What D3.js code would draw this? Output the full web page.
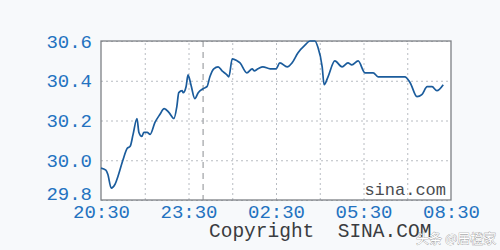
<!DOCTYPE html>
<html>
<head>
<meta charset="utf-8">
<script src="https://cdn.jsdelivr.net/npm/d3@7/dist/d3.min.js"></script>
<style>
  body { margin: 0; background: #f7f9fb; }
  svg { display: block; }
  .lbl text { font-family: "Liberation Mono", "DejaVu Sans Mono", monospace; font-size: 19px; fill: #2372c0; }
  .grid line { stroke: #b8bcc2; stroke-dasharray: 2,3; }
  .grid path { display: none; }
</style>
</head>
<body>
<svg></svg>
<script>

var width = 500;
var height = 250;

// samples (times before noon are the next day)
var times = ["20:30","20:40","20:44","20:51","20:59","21:05","21:15","21:24","21:30","21:36",
  "21:44","21:48","21:54","21:58","22:05","22:11","22:21","22:31","22:40","22:50",
  "23:00","23:06","23:10","23:17","23:19","23:25","23:29","23:35","23:43","23:50",
  "00:00","00:08","00:14","00:22","00:31","00:39","00:49","00:53","01:00","01:10",
  "01:16","01:30","01:41","01:45","01:53","02:03","02:18","02:30","02:38","02:53",
  "03:03","03:15","03:30","03:40","03:50","03:56","04:05","04:09","04:17","04:31",
  "04:46","04:58","05:06","05:19","05:33","05:50","06:00","06:12","06:55","07:06",
  "07:20","07:30","07:41","07:51","08:01","08:14"];
var prices = [29.96,29.95,29.93,29.86,29.88,29.92,30.00,30.06,30.07,30.13,
  30.21,30.14,30.12,30.14,30.14,30.13,30.19,30.23,30.26,30.24,
  30.21,30.27,30.34,30.35,30.34,30.37,30.43,30.38,30.31,30.34,
  30.36,30.37,30.42,30.46,30.47,30.45,30.43,30.42,30.51,30.50,
  30.49,30.44,30.46,30.45,30.46,30.47,30.46,30.46,30.49,30.47,
  30.49,30.54,30.58,30.60,30.60,30.57,30.47,30.38,30.42,30.50,
  30.47,30.49,30.48,30.50,30.44,30.44,30.42,30.42,30.42,30.39,
  30.32,30.33,30.37,30.37,30.35,30.38];

var yTicks = [29.8, 30.0, 30.2, 30.4, 30.6];
var xLabels = ["20:30","23:30","02:30","05:30","08:30"];
var xGrid = ["22:00","23:30","01:00","02:30","04:00","05:30","07:00"];
var dayBreak = "00:00";

function parseT(s) {
	var p = s.split(":").map(Number);
	var day = p[0] < 12 ? 2 : 1;
	return new Date(2000, 0, day, p[0], p[1]);
}

var data = times.map(function(t, i) { return {t: parseT(t), v: prices[i]}; });

var svg = d3.select("svg").attr("width", width).attr("height", height);

var plotL = 101, plotR = 451, plotT = 41, plotB = 200;

var x = d3.scaleTime().domain([parseT("20:30"), parseT("08:30")]).range([plotL, plotR]);
var y = d3.scaleLinear().domain([29.8, 30.6]).range([plotB, plotT]);

// plot background
svg.append("rect")
	.attr("x", plotL).attr("y", plotT)
	.attr("width", plotR - plotL).attr("height", plotB - plotT)
	.attr("fill", "#ffffff");

// grid
svg.append("g").attr("class", "grid")
	.attr("transform", "translate(" + plotL + ",0)")
	.call(d3.axisLeft(y).tickValues(yTicks).tickSize(-(plotR - plotL)).tickFormat(""));

svg.append("g").attr("class", "grid")
	.attr("transform", "translate(0," + plotB + ")")
	.call(d3.axisBottom(x).tickValues(xGrid.map(parseT)).tickSize(-(plotB - plotT)).tickFormat(""));

// midnight marker
svg.append("line")
	.attr("x1", x(parseT(dayBreak))).attr("x2", x(parseT(dayBreak)))
	.attr("y1", plotT).attr("y2", plotB)
	.attr("stroke", "#8a8d92").attr("stroke-width", 1)
	.attr("stroke-dasharray", "6,5");

// frame
svg.append("rect")
	.attr("x", plotL).attr("y", plotT)
	.attr("width", plotR - plotL).attr("height", plotB - plotT)
	.attr("fill", "none").attr("stroke", "#7d8085").attr("stroke-width", 1.3);

// price line
var line = d3.line()
	.x(function(d) { return x(d.t); })
	.y(function(d) { return y(d.v); })
	.curve(d3.curveMonotoneX);

svg.append("path")
	.datum(data)
	.attr("d", line)
	.attr("fill", "none")
	.attr("stroke", "#1b5c9c")
	.attr("stroke-width", 1.7)
	.attr("stroke-linejoin", "round");

// y labels
var yAx = svg.append("g").attr("class", "lbl")
	.attr("transform", "translate(" + plotL + ",0)")
	.call(d3.axisLeft(y).tickValues(yTicks).tickSize(0).tickPadding(9).tickFormat(d3.format(".1f")));
yAx.select(".domain").remove();
yAx.selectAll(".tick").filter(function(d) { return d === 29.8; })
	.select("text").attr("y", -7);

// x labels
var xAx = svg.append("g").attr("class", "lbl")
	.attr("transform", "translate(0," + plotB + ")")
	.call(d3.axisBottom(x).tickValues(xLabels.map(parseT)).tickSize(0).tickFormat(d3.timeFormat("%H:%M")));
xAx.select(".domain").remove();
xAx.selectAll("text").attr("y", 18).attr("dy", 0);

// watermarks
svg.append("text")
	.attr("x", 446).attr("y", 195)
	.attr("text-anchor", "end")
	.style("font-family", "Liberation Mono, monospace")
	.style("font-size", "17px")
	.attr("fill", "#4a4c50")
	.text("sina.com");

svg.append("text")
	.attr("x", 209).attr("y", 237)
	.style("font-family", "Liberation Mono, monospace")
	.style("font-size", "19.5px")
	.attr("fill", "#3a3c40")
	.attr("xml:space", "preserve")
	.text("Copyright  SINA.COM");

svg.append("text")
	.attr("x", 416).attr("y", 243)
	.style("font-family", "Noto Sans CJK SC")
	.style("font-size", "13px")
	.attr("fill", "#ffffff")
	.attr("stroke", "#8a8a8a")
	.attr("stroke-width", 0.6)
	.attr("paint-order", "stroke")
	.text("头条 @居橙家");

</script>
</body>
</html>
